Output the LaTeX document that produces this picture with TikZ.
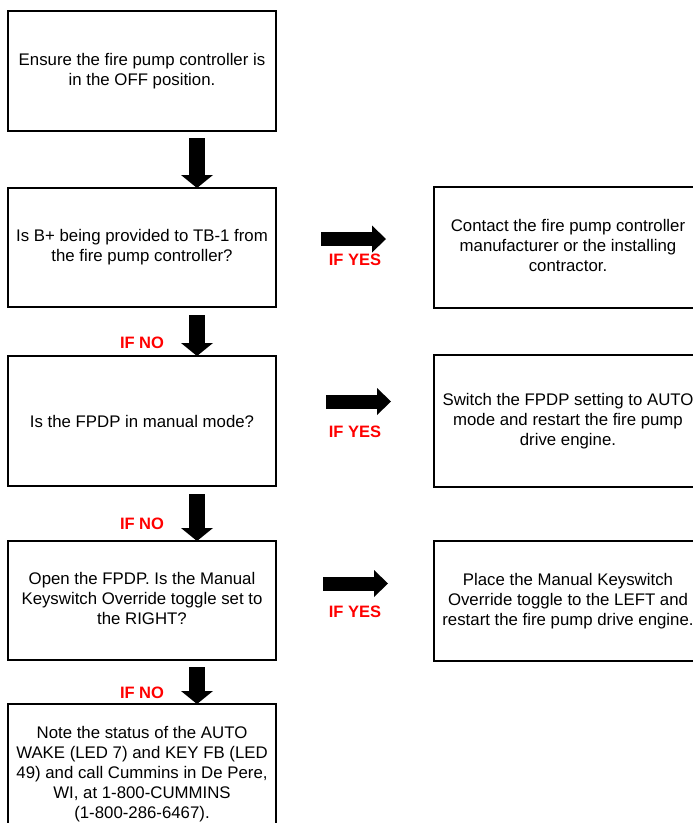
\documentclass[tikz,border=0pt]{standalone}
\usepackage{fontspec}
\setmainfont{Liberation Sans}
\usetikzlibrary{arrows.meta}

\begin{document}
\begin{tikzpicture}[x=1pt, y=1pt,
    stepbox/.style={draw, line width=2.8pt, minimum width=268pt, inner sep=0pt, outer sep=0pt,
        align=center, font=\fontsize{16.8}{20}\selectfont,
        execute at begin node={\rule[-4pt]{0pt}{20pt}},
        execute at end node={\rule[-4pt]{0pt}{20pt}}},
    downarrow/.style={line width=16pt, -{Triangle[width=32pt, length=13pt, line width=0pt]}},
    rightarrow/.style={line width=14pt, -{Triangle[width=27pt, length=14pt, line width=0pt]}},
    iflabel/.style={text=red, font=\fontsize{16.5}{20}\selectfont\bfseries}]
                \useasboundingbox (0,0) rectangle (693,-823);
                % left column
                \node[stepbox, minimum height=120pt] (Off) at (142,-71)
                    {Ensure the fire pump controller is\\in the OFF position.};
                \node[stepbox, minimum height=119pt] (BPlus) at (142,-247.5)
                    {Is B+ being provided to TB-1 from\\the fire pump controller?};
                \node[stepbox, minimum height=130pt] (Manual) at (142,-421)
                    {Is the FPDP in manual mode?};
                \node[stepbox, minimum height=119pt] (Toggle) at (142,-600.5)
                    {Open the FPDP. Is the Manual\\Keyswitch Override toggle set to\\the RIGHT?};
                \node[stepbox, minimum height=140pt] (Note) at (142,-774)
                    {Note the status of the AUTO\\WAKE (LED 7) and KEY FB (LED\\49) and call Cummins in De Pere,\\WI, at 1-800-CUMMINS\\(1-800-286-6467).};
                % right column
                \node[stepbox, minimum height=121pt] (Contact) at (568,-247.5)
                    {Contact the fire pump controller\\manufacturer or the installing\\contractor.};
                \node[stepbox, minimum height=132pt] (Switch) at (568,-421)
                    {Switch the FPDP setting to AUTO\\mode and restart the fire pump\\drive engine.};
                \node[stepbox, minimum height=120pt] (Place) at (568,-601)
                    {Place the Manual Keyswitch\\Override toggle to the LEFT and\\restart the fire pump drive engine.};
                % down arrows
                \draw[downarrow] ([shift={(55,-7)}]Off.south) -- ([xshift=55]BPlus.north);
                \draw[downarrow] ([shift={(55,-8)}]BPlus.south) -- ([xshift=55]Manual.north);
                \draw[downarrow] ([shift={(55,-8)}]Manual.south) -- ([xshift=55]Toggle.north);
                \draw[downarrow] ([shift={(55,-7)}]Toggle.south) -- ([xshift=55]Note.north);
                % right arrows
                \draw[rightarrow] ([shift={(45,8.5)}]BPlus.east) -- ([shift={(110,8.5)}]BPlus.east);
                \draw[rightarrow] ([shift={(50,19.5)}]Manual.east) -- ([shift={(115,19.5)}]Manual.east);
                \draw[rightarrow] ([shift={(47,17)}]Toggle.east) -- ([shift={(112,17)}]Toggle.east);
                % labels
                \node[iflabel] (no1) at (142,-343) {IF NO};
                \node[iflabel] (no2) at (142,-524) {IF NO};
                \node[iflabel] (no3) at (142,-693) {IF NO};
                \node[iflabel] (yes1) at (355,-260) {IF YES};
                \node[iflabel] (yes2) at (355,-432) {IF YES};
                \node[iflabel] (yes3) at (355,-612) {IF YES};
            \end{tikzpicture}
\end{document}
